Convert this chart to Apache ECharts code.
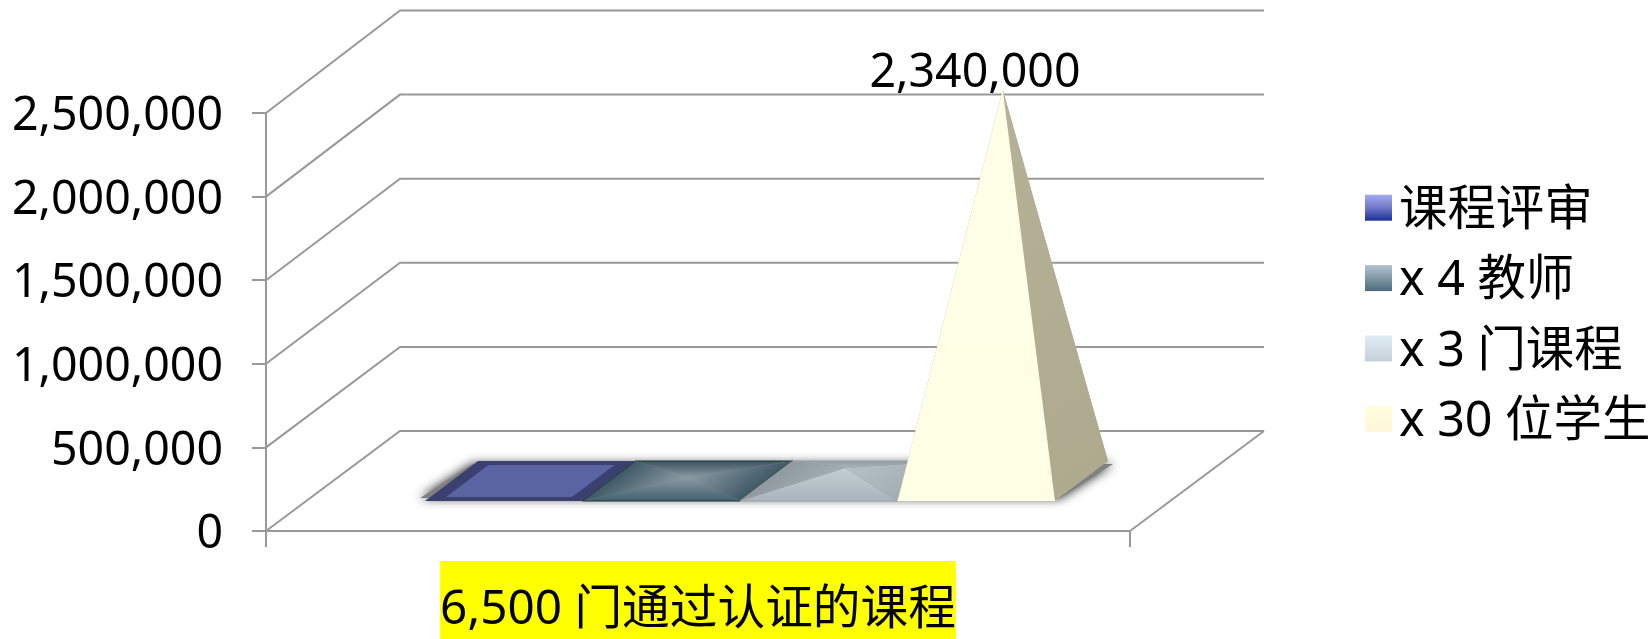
<!DOCTYPE html>
<html>
<head>
<meta charset="utf-8">
<style>html,body{margin:0;padding:0;background:#fff}#c{width:1652px;height:639px}</style>
<script src="https://cdn.jsdelivr.net/npm/echarts@6/dist/echarts.min.js"></script>
</head>
<body>
<div id="c"></div>
<script>
var categories = ['6,500 门通过认证的课程'];
var seriesNames = ['课程评审', 'x 4 教师', 'x 3 门课程', 'x 30 位学生'];
var seriesValues = [6500, 26000, 78000, 2340000];
var yTicks = [0, 500000, 1000000, 1500000, 2000000, 2500000];

var FONT = '"Noto Sans","Noto Sans CJK SC",sans-serif';
var WALL = {dx: 134, floorDy: 100, topDy: 102.5};
var FRONT = {dx: 42, dy: 30};
var BACK = {dx: 95, dy: 70};
var SLOT = 157.5;
var GRID_COLOR = '#999999';

var faceColors = [
  null,
  {back: ['#3b5460', '#8596a0'], left: ['#3f5965', '#8a9ba6'], right: ['#3f5965', '#8a9ba6'], front: ['#41606c', '#8c9da8'], edge: '#23393f'},
  {back: ['#929ba2', '#a9b3ba'], left: ['#8f999f', '#a3adb4'], right: ['#a3adb4', '#b5c0c7'], front: ['#aab4bc', '#c2ced4'], edge: '#9aa4ab'},
  {back: ['#b0ad92', '#b0ad92'], left: ['#b0ad92', '#b0ad92'], right: ['#aeaa8e', '#b5b299'], front: ['#ffffe5', '#ffffe8'], edge: null}
];

function fmt(v) { return String(v).replace(/\B(?=(\d{3})+$)/g, ','); }

function baseGeom(api, i) {
  var c = api.coord([0, 0]);
  var start = c[0] - 2 * SLOT + i * SLOT;
  return {
    fl: [start + FRONT.dx, c[1] - FRONT.dy],
    fr: [start + SLOT + FRONT.dx, c[1] - FRONT.dy],
    bl: [start + BACK.dx, c[1] - BACK.dy],
    br: [start + SLOT + BACK.dx, c[1] - BACK.dy]
  };
}

// face shaded from its base edge a-b up to the apex, across the edge's normal
function face(a, b, apex, colors) {
  var ex = b[0] - a[0], ey = b[1] - a[1];
  var t = ((apex[0] - a[0]) * ex + (apex[1] - a[1]) * ey) / (ex * ex + ey * ey);
  var foot = [a[0] + t * ex, a[1] + t * ey];
  return {
    type: 'polygon',
    shape: {points: [a, b, apex]},
    style: {
      fill: new echarts.graphic.LinearGradient(foot[0], foot[1], apex[0], apex[1],
        [{offset: 0, color: colors[0]}, {offset: 1, color: colors[1]}], true)
    }
  };
}
function mid(a, b) { return [(a[0] + b[0]) / 2, (a[1] + b[1]) / 2]; }

function pyramid(i) {
  return function (params, api) {
    var g = baseGeom(api, i);
    var value = api.value(1);
    var c0 = api.coord([0, 0]);
    var cv = api.coord([0, value]);
    var ctr = mid(g.fl, g.br);
    var apex = [ctr[0], ctr[1] + (cv[1] - c0[1])];
    var kids = [];
    if (i === 0) {
      var q = function (u, v) {
        return [g.fl[0] + u * (g.fr[0] - g.fl[0]) + v * (g.bl[0] - g.fl[0]),
                g.fl[1] + v * (g.bl[1] - g.fl[1])];
      };
      kids.push({type: 'polygon', shape: {points: [g.fl, g.fr, g.br, g.bl]}, style: {fill: '#3a4170'}});
      kids.push({type: 'polygon', shape: {points: [q(.1, .1), q(.9, .1), q(.9, .9), q(.1, .9)]}, style: {fill: '#5a64a3'}});
    } else {
      var col = faceColors[i];
      kids.push(face(g.bl, g.br, apex, col.back));
      kids.push(face(g.fl, g.bl, apex, col.left));
      kids.push(face(g.fr, g.br, apex, col.right));
      kids.push(face(g.fl, g.fr, apex, col.front));
      if (col.edge) {
        kids.push({type: 'polyline', shape: {points: [g.fl, g.fr, g.br, g.bl, g.fl]},
          style: {fill: null, stroke: col.edge, lineWidth: 1}});
      }
      if (i === 3) {
        kids.push({type: 'text', style: {
          text: fmt(value), x: 975, y: apex[1] - 16,
          align: 'center', verticalAlign: 'middle', fill: '#000', font: '46.5px ' + FONT
        }});
      }
    }
    return {type: 'group', children: kids};
  };
}

function wall(params, api) {
  var kids = [];
  var c = api.coord([0, 0]);
  var half = api.size([1, 0])[0] / 2;
  var left = c[0] - half, right = c[0] + half;
  var lineStyle = {stroke: GRID_COLOR, lineWidth: 2, fill: null};
  var maxTick = yTicks[yTicks.length - 1];
  yTicks.forEach(function (t) {
    var y = api.coord([0, t])[1];
    var dy = WALL.floorDy + (WALL.topDy - WALL.floorDy) * t / maxTick;
    kids.push({type: 'polyline', shape: {points: [
      [left, y], [left + WALL.dx, y - dy], [right + WALL.dx, y - dy]
    ]}, style: lineStyle});
  });
  kids.push({type: 'line', shape: {x1: right, y1: c[1], x2: right + WALL.dx, y2: c[1] - WALL.floorDy}, style: lineStyle});
  // soft shadow beneath the row of pyramids
  var a = baseGeom(api, 0), b = baseGeom(api, 3);
  kids.push({type: 'polygon', shape: {points: [
      [a.fl[0] - 5, a.fl[1] - 3], [b.fr[0] + 5, b.fr[1] - 3],
      [b.br[0] + 5, b.br[1] + 3], [a.bl[0] - 5, a.bl[1] + 3]
    ]},
    style: {fill: '#808080', shadowBlur: 11, shadowColor: 'rgba(0,0,0,0.9)'}});
  return {type: 'group', children: kids};
}

function vgrad(a, b, m) {
  var stops = m ? [{offset: 0, color: a}, {offset: .5, color: m}, {offset: 1, color: b}]
                : [{offset: 0, color: a}, {offset: 1, color: b}];
  return new echarts.graphic.LinearGradient(0, 0, 0, 1, stops);
}
var legendFill = [
  vgrad('#a3abf2', '#1c2f98', '#7078c8'),
  vgrad('#b2c4d0', '#4d6b7d'),
  vgrad('#e0ecf3', '#c5d0d9'),
  vgrad('#ffffdc', '#fff6da')
];

var series = [{
  type: 'custom', name: '_wall', silent: true, clip: false, z: 1,
  coordinateSystem: 'cartesian2d', data: [[0, 0]], renderItem: wall, encode: {x: 0, y: 1}
}];
seriesNames.forEach(function (name, i) {
  series.push({
    type: 'custom', name: name, clip: false, z: 2 + i, silent: true,
    coordinateSystem: 'cartesian2d',
    data: [[0, seriesValues[i]]],
    renderItem: pyramid(i),
    encode: {x: 0, y: 1}
  });
});

var chart = echarts.init(document.getElementById('c'), null, {renderer: 'canvas'});
chart.setOption({
  animation: false,
  backgroundColor: '#fff',
  grid: {left: 266, right: 522, top: 113, bottom: 108, containLabel: false},
  legend: {
    orient: 'vertical', left: 1360, top: 175, itemWidth: 27, itemHeight: 26, itemGap: 15,
    selectedMode: false,
    formatter: function (n) { return '{t|' + n + '}'; },
    textStyle: {
      fontFamily: FONT, fontSize: 48.4, color: '#000',
      rich: {t: {fontFamily: FONT, fontSize: 48.4, color: '#000', lineHeight: 53, padding: [7, 0, 0, 2]}}
    },
    data: seriesNames.map(function (n, i) {
      return {name: n, icon: 'rect', itemStyle: {color: legendFill[i], borderWidth: 0}};
    })
  },
  xAxis: {
    type: 'category', data: categories, boundaryGap: true,
    axisLine: {show: true, lineStyle: {color: GRID_COLOR, width: 2}},
    axisTick: {show: true, length: 16, lineStyle: {color: GRID_COLOR, width: 2}},
    axisLabel: {
      fontFamily: FONT, fontSize: 47.7, color: '#000', margin: 30,
      backgroundColor: '#ffff00', lineHeight: 58, padding: [20, 0, 0, 0], interval: 0
    }
  },
  yAxis: {
    type: 'value', min: 0, max: 2500000, interval: 500000,
    splitLine: {show: false},
    axisLine: {show: true, lineStyle: {color: GRID_COLOR, width: 2}},
    axisTick: {show: true, length: 14, lineStyle: {color: GRID_COLOR, width: 2}},
    axisLabel: {fontFamily: FONT, fontSize: 46.5, color: '#000', margin: 43,
      verticalAlign: 'top', lineHeight: 8, formatter: fmt}
  },
  series: series
});
</script>
</body>
</html>
